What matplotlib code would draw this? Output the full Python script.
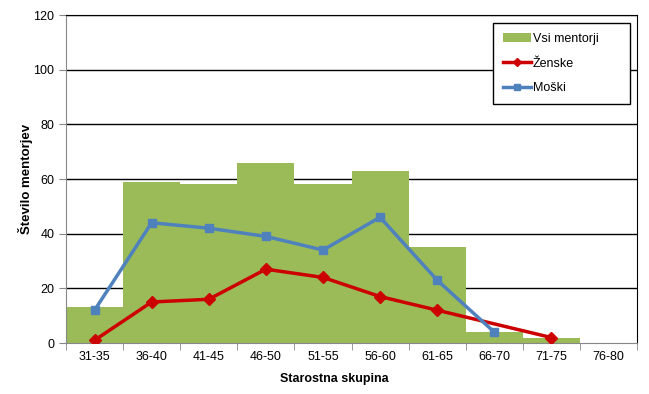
import numpy as np
import matplotlib
matplotlib.use('Agg')
import matplotlib.pyplot as plt

plt.rcParams['font.family'] = ['Liberation Sans', 'DejaVu Sans']

# age groups and counts
groups = ['31-35', '36-40', '41-45', '46-50', '51-55', '56-60', '61-65', '66-70', '71-75', '76-80']
vsi = [13, 59, 58, 66, 58, 63, 35, 4, 2, 0]
zenske = [1, 15, 16, 27, 24, 17, 12, np.nan, 2, np.nan]
moski = [12, 44, 42, 39, 34, 46, 23, 4, np.nan, np.nan]

x = np.arange(len(groups))

fig = plt.figure(figsize=(6.49, 3.94), dpi=100)
ax = fig.add_axes([66/649, 1-343/394, 571/649, 328/394])

b = ax.bar(x, vsi, width=1.0, color='#9BBB59', label='Vsi mentorji', zorder=2)

z = np.array(zenske, dtype=float)
mz = ~np.isnan(z)
lz, = ax.plot(x[mz], z[mz], color='#CC0000', lw=2.5, marker='D', ms=6, label='Ženske', zorder=3)

m = np.array(moski, dtype=float)
mm = ~np.isnan(m)
lm, = ax.plot(x[mm], m[mm], color='#4F81BD', lw=2.5, marker='s', ms=6, label='Moški', zorder=3)

ax.set_xlim(-0.5, len(groups) - 0.5)
ax.set_ylim(0, 120)
ax.set_yticks(np.arange(0, 121, 20))
ax.set_xticks(x)
ax.set_xticklabels(groups)
ax.set_xticks(np.arange(-0.5, len(groups), 1), minor=True)
ax.tick_params(axis='x', which='major', length=0, labelsize=9, pad=6)
ax.tick_params(axis='x', which='minor', length=5, color='#888888', direction='out')
ax.tick_params(axis='y', length=5, color='#888888', direction='out', labelsize=9)

for yv in range(20, 121, 20):
    ax.axhline(yv, color='black', lw=1, zorder=1)

ax.spines['left'].set_color('#888888')
ax.spines['bottom'].set_color('#888888')
ax.spines['right'].set_color('black')
ax.spines['top'].set_color('black')

ax.set_xlabel('Starostna skupina', fontsize=9, fontweight='bold')
ax.xaxis.set_label_coords((334 - 66) / 571, -30 / 328)
ax.set_ylabel('Število mentorjev', fontsize=9.5, fontweight='bold')
ax.yaxis.set_label_coords(-33 / 571, 0.5)

leg = ax.legend([b, lz, lm], ['Vsi mentorji', 'Ženske', 'Moški'],
                loc='center', bbox_to_anchor=(0.748, 0.741, 0.24, 0.222), mode='expand',
                borderaxespad=0, fontsize=9, frameon=True, fancybox=False, edgecolor='black',
                handlelength=2.2, labelspacing=1.0, borderpad=0.8, handletextpad=0.2,
                markerscale=0.7)
leg.get_frame().set_linewidth(1)
leg.get_frame().set_alpha(1)

fig.savefig('out.png', dpi=100)
